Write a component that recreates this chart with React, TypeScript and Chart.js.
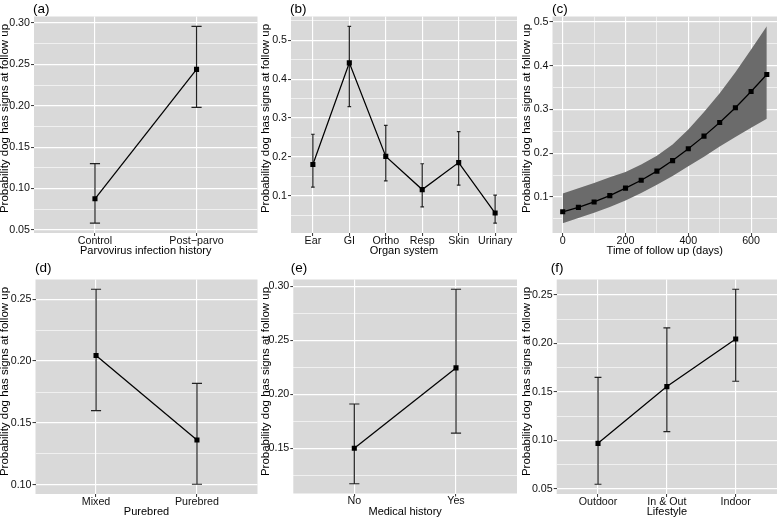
import { useEffect, useRef } from "react"
import Chart from "chart.js/auto"

Chart.defaults.font.family = "'Liberation Sans', Arial, Helvetica, sans-serif"

// (a) parvovirus infection history
const parvoGroups = ["Control", "Post−parvo"]
const parvoProb = [0.0875, 0.244]
const parvoLower = [0.058, 0.198]
const parvoUpper = [0.13, 0.296]

// (b) organ system
const organGroups = ["Ear", "GI", "Ortho", "Resp", "Skin", "Urinary"]
const organProb = [0.18, 0.442, 0.201, 0.1155, 0.185, 0.055]
const organLower = [0.122, 0.329, 0.138, 0.071, 0.127, 0.029]
const organUpper = [0.258, 0.536, 0.281, 0.182, 0.265, 0.101]

// (c) time of follow up (days)
const followDays = [0, 50, 100, 150, 200, 250, 300, 350, 400, 450, 500, 550, 600, 650]
const followProb = [0.066, 0.076, 0.0885, 0.103, 0.12, 0.138, 0.159, 0.183, 0.21, 0.239, 0.27, 0.304, 0.341, 0.38]
const followLower = [0.04, 0.052, 0.064, 0.077, 0.092, 0.109, 0.128, 0.148, 0.17, 0.192, 0.215, 0.237, 0.258, 0.279]
const followUpper = [0.108, 0.12, 0.132, 0.145, 0.157, 0.174, 0.194, 0.22, 0.254, 0.294, 0.337, 0.385, 0.437, 0.49]

// (d) purebred
const breedGroups = ["Mixed", "Purebred"]
const breedProb = [0.2045, 0.1363]
const breedLower = [0.16, 0.1005]
const breedUpper = [0.258, 0.182]

// (e) medical history
const historyGroups = ["No", "Yes"]
const historyProb = [0.15, 0.2245]
const historyLower = [0.117, 0.164]
const historyUpper = [0.191, 0.2975]

// (f) lifestyle
const lifestyleGroups = ["Outdoor", "In & Out", "Indoor"]
const lifestyleProb = [0.097, 0.1555, 0.2046]
const lifestyleLower = [0.0548, 0.109, 0.161]
const lifestyleUpper = [0.165, 0.216, 0.2559]

// tick labels
const yTicksA = [0.05, 0.1, 0.15, 0.2, 0.25, 0.3]
const yTicksB = [0.1, 0.2, 0.3, 0.4, 0.5]
const yTicksC = [0.1, 0.2, 0.3, 0.4, 0.5]
const xTicksC = [0, 200, 400, 600]
const yTicksD = [0.1, 0.15, 0.2, 0.25]
const yTicksE = [0.15, 0.2, 0.25, 0.3]
const yTicksF = [0.05, 0.1, 0.15, 0.2, 0.25]

const Y_TITLE = "Probability dog has signs at follow up"

interface PanelSpec {
  tag: string
  xTitle: string
  x: number[]
  est: number[]
  lower: number[]
  upper: number[]
  categories?: string[]
  xTicks?: number[]
  yTicks: number[]
  yDigits: number
  ribbon?: boolean
  left: number
  top: number
  width: number
  height: number
  area: { l: number; t: number; r: number; b: number }
  tagX: number
  yTitleX: number
  yTitleY: number
  xTitlePad: number
}

const idx = (arr: string[]) => arr.map((_, i) => i + 1)

const panels: PanelSpec[] = [
  {
    tag: "(a)", xTitle: "Parvovirus infection history", categories: parvoGroups, x: idx(parvoGroups),
    est: parvoProb, lower: parvoLower, upper: parvoUpper, yTicks: yTicksA, yDigits: 2,
    left: 0, top: 0, width: 260, height: 259, area: { l: 34, t: 16.5, r: 257.5, b: 233 },
    tagX: 33, yTitleX: 4.8, yTitleY: 118.5, xTitlePad: 2.5,
  },
  {
    tag: "(b)", xTitle: "Organ system", categories: organGroups, x: idx(organGroups),
    est: organProb, lower: organLower, upper: organUpper, yTicks: yTicksB, yDigits: 1,
    left: 260, top: 0, width: 260, height: 259, area: { l: 31, t: 16.5, r: 257, b: 233 },
    tagX: 30, yTitleX: 5.7, yTitleY: 118.5, xTitlePad: 2.5,
  },
  {
    tag: "(c)", xTitle: "Time of follow up (days)", x: followDays, xTicks: xTicksC, ribbon: true,
    est: followProb, lower: followLower, upper: followUpper, yTicks: yTicksC, yDigits: 1,
    left: 520, top: 0, width: 260, height: 259, area: { l: 32.5, t: 16.5, r: 257, b: 233 },
    tagX: 32, yTitleX: 6.7, yTitleY: 118.5, xTitlePad: 2.5,
  },
  {
    tag: "(d)", xTitle: "Purebred", categories: breedGroups, x: idx(breedGroups),
    est: breedProb, lower: breedLower, upper: breedUpper, yTicks: yTicksD, yDigits: 2,
    left: 0, top: 259, width: 260, height: 260, area: { l: 35.5, t: 20.5, r: 257.5, b: 235 },
    tagX: 35, yTitleX: 4.8, yTitleY: 122.5, xTitlePad: 1.5,
  },
  {
    tag: "(e)", xTitle: "Medical history", categories: historyGroups, x: idx(historyGroups),
    est: historyProb, lower: historyLower, upper: historyUpper, yTicks: yTicksE, yDigits: 2,
    left: 260, top: 259, width: 260, height: 260, area: { l: 33.3, t: 20.5, r: 257, b: 234.5 },
    tagX: 30.7, yTitleX: 5.7, yTitleY: 122.5, xTitlePad: 1.5,
  },
  {
    tag: "(f)", xTitle: "Lifestyle", categories: lifestyleGroups, x: idx(lifestyleGroups),
    est: lifestyleProb, lower: lifestyleLower, upper: lifestyleUpper, yTicks: yTicksF, yDigits: 2,
    left: 520, top: 259, width: 260, height: 260, area: { l: 36.7, t: 20.5, r: 257, b: 235 },
    tagX: 30.7, yTitleX: 6.7, yTitleY: 122.5, xTitlePad: 1.5,
  },
]

// ggplot-like 5% expansion of a continuous range
function expand(lo: number, hi: number): [number, number] {
  const pad = (hi - lo) * 0.05
  return [lo - pad, hi + pad]
}

// major ticks plus minor ones halfway between (and just outside), kept inside the range
function withMinor(major: number[], min: number, max: number) {
  const half = (major[1] - major[0]) / 2
  const list = [{ value: major[0] - half, major: false }]
  major.forEach((v) => {
    list.push({ value: v, major: true })
    list.push({ value: v + half, major: false })
  })
  return list.filter((t) => t.value >= min - 1e-9 && t.value <= max + 1e-9)
}

const gridOpts = {
  color: "#ffffff",
  lineWidth: (c: any) => (c.tick && c.tick.major ? 1.15 : 0.6),
  tickColor: (c: any) => (c.tick && c.tick.major ? "#333333" : "rgba(0,0,0,0)"),
  tickLength: 3,
  tickWidth: 1,
}

function panelPlugin(p: PanelSpec) {
  return {
    id: "ggPanel",
    beforeDraw(chart: any) {
      const { ctx, chartArea: a } = chart
      ctx.save()
      ctx.fillStyle = "#d9d9d9"
      ctx.fillRect(a.left, a.top, a.right - a.left, a.bottom - a.top)
      ctx.restore()
    },
    beforeDatasetsDraw(chart: any) {
      if (p.ribbon) return
      const { ctx } = chart
      const xs = chart.scales.x
      const ys = chart.scales.y
      ctx.save()
      ctx.strokeStyle = "#222222"
      ctx.lineWidth = 1.2
      p.x.forEach((xv, i) => {
        const px = xs.getPixelForValue(xv)
        const l = xs.getPixelForValue(xv - 0.05)
        const r = xs.getPixelForValue(xv + 0.05)
        const top = ys.getPixelForValue(p.upper[i])
        const bot = ys.getPixelForValue(p.lower[i])
        ctx.beginPath()
        ctx.moveTo(px, top)
        ctx.lineTo(px, bot)
        ctx.moveTo(l, top)
        ctx.lineTo(r, top)
        ctx.moveTo(l, bot)
        ctx.lineTo(r, bot)
        ctx.stroke()
      })
      ctx.restore()
    },
    afterDraw(chart: any) {
      const { ctx } = chart
      const family = Chart.defaults.font.family
      ctx.save()
      ctx.fillStyle = "#000000"
      ctx.textBaseline = "middle"
      ctx.textAlign = "left"
      ctx.font = `13.5px ${family}`
      ctx.fillText(p.tag, p.tagX, 9)
      ctx.translate(p.yTitleX, p.yTitleY)
      ctx.rotate(-Math.PI / 2)
      ctx.textAlign = "center"
      ctx.font = `11.5px ${family}`
      ctx.fillText(Y_TITLE, 0, 0)
      ctx.restore()
    },
  }
}

function buildConfig(p: PanelSpec): any {
  const [yMin, yMax] = expand(Math.min(...p.lower), Math.max(...p.upper))
  const [xMin, xMax] = p.categories
    ? [0.4, p.categories.length + 0.6]
    : expand(Math.min(...p.x), Math.max(...p.x))

  // dataset 0 is painted last, so the estimate goes first to sit on top of the ribbon
  const datasets: any[] = [
    {
      data: p.x.map((v, i) => ({ x: v, y: p.est[i] })),
      borderColor: "#000000",
      borderWidth: 1.25,
      pointStyle: "rect",
      pointRadius: 3.6,
      pointBackgroundColor: "#000000",
      pointBorderWidth: 0,
      tension: 0,
      fill: false,
    },
  ]
  if (p.ribbon) {
    datasets.push({
      data: p.x.map((v, i) => ({ x: v, y: p.lower[i] })),
      borderColor: "rgba(0,0,0,0)",
      pointRadius: 0,
      fill: false,
    })
    datasets.push({
      data: p.x.map((v, i) => ({ x: v, y: p.upper[i] })),
      borderColor: "rgba(0,0,0,0)",
      backgroundColor: "#6b6b6b",
      pointRadius: 0,
      fill: "-1",
    })
  }

  return {
    type: "line",
    data: { datasets },
    options: {
      animation: false,
      responsive: true,
      maintainAspectRatio: false,
      events: [],
      layout: {
        autoPadding: false,
        padding: { left: 0, top: p.area.t, right: p.width - p.area.r, bottom: 0 },
      },
      plugins: { legend: { display: false }, tooltip: { enabled: false } },
      scales: {
        x: {
          type: "linear",
          min: xMin,
          max: xMax,
          bounds: "data",
          afterBuildTicks: (scale: any) => {
            scale.ticks = p.categories
              ? p.x.map((v) => ({ value: v, major: true }))
              : withMinor(p.xTicks as number[], xMin, xMax)
          },
          afterFit: (scale: any) => {
            scale.height = p.height - p.area.b
          },
          grid: gridOpts,
          border: { display: false },
          ticks: {
            autoSkip: false,
            maxRotation: 0,
            padding: -0.5,
            color: "#111111",
            font: { size: 10.7, lineHeight: 1 },
            callback: (v: any, i: number, ticks: any[]) => {
              if (p.categories) return p.categories[i]
              return ticks[i].major ? String(v) : ""
            },
          },
          title: {
            display: true,
            text: p.xTitle,
            color: "#000000",
            font: { size: 11, lineHeight: 1 },
            padding: { top: 0, bottom: p.xTitlePad },
          },
        },
        y: {
          type: "linear",
          min: yMin,
          max: yMax,
          bounds: "data",
          afterBuildTicks: (scale: any) => {
            scale.ticks = withMinor(p.yTicks, yMin, yMax)
          },
          afterFit: (scale: any) => {
            scale.width = p.area.l
          },
          grid: gridOpts,
          border: { display: false },
          ticks: {
            autoSkip: false,
            padding: 1,
            color: "#111111",
            font: { size: 10.7, lineHeight: 1 },
            callback: (v: any, i: number, ticks: any[]) =>
              ticks[i].major ? Number(v).toFixed(p.yDigits) : "",
          },
          title: { display: false },
        },
      },
    },
    plugins: [panelPlugin(p)],
  }
}

function PanelChart({ panel }: { panel: PanelSpec }) {
  const canvasRef = useRef<HTMLCanvasElement>(null)

  useEffect(() => {
    if (!canvasRef.current) return
    const chart = new Chart(canvasRef.current, buildConfig(panel))
    return () => {
      chart.destroy()
    }
  }, [panel])

  return (
    <div
      style={{
        position: "absolute",
        left: panel.left,
        top: panel.top,
        width: panel.width,
        height: panel.height,
      }}
    >
      <canvas ref={canvasRef} />
    </div>
  )
}

export default function App() {
  return (
    <div
      style={{
        position: "absolute",
        left: 0,
        top: 0,
        width: 780,
        height: 519,
        background: "#ffffff",
      }}
    >
      {panels.map((p) => (
        <PanelChart key={p.tag} panel={p} />
      ))}
    </div>
  )
}
